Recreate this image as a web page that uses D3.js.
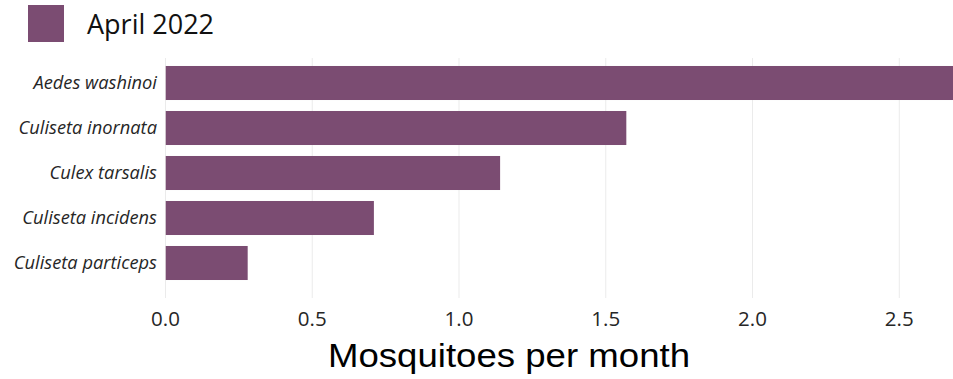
<!DOCTYPE html>
<html>
<head>
<meta charset="utf-8">
<script src="https://cdn.jsdelivr.net/npm/d3@7"></script>
<style>
  html, body { margin: 0; padding: 0; background: #fff; }
  svg { display: block; }
</style>
</head>
<body>
<svg id="chart" width="953" height="379"></svg>
<script>
// Species and their April 2022 catch rate
const species = ["Aedes washinoi", "Culiseta inornata", "Culex tarsalis", "Culiseta incidens", "Culiseta particeps"];
const mosquitoesPerMonth = [2.7, 1.57, 1.14, 0.71, 0.28];
const xTicks = [0, 0.5, 1, 1.5, 2, 2.5];
const seriesName = "April 2022";
const axisTitle = "Mosquitoes per month";

const data = species.map((s, i) => ({ name: s, value: mosquitoesPerMonth[i] }));

const svg = d3.select("#chart");
const W = 953;
const barColor = "#7b4c72";

const x = d3.scaleLinear().domain([0, 2.683]).range([165.5, W]);
const y = d3.scaleBand().domain(species).range([60.5, 285.5]).paddingInner(0.244).paddingOuter(0.122);

// Vertical gridlines
svg.append("g")
  .selectAll("line")
  .data(xTicks)
  .join("line")
  .attr("x1", d => x(d)).attr("x2", d => x(d))
  .attr("y1", 58).attr("y2", 298)
  .attr("stroke", "#ebebeb")
  .attr("stroke-width", 1);

// Bars, clipped at the plot's right edge
svg.append("clipPath").attr("id", "plotClip")
  .append("rect").attr("x", x(0)).attr("y", 0).attr("width", W - x(0)).attr("height", 379);

svg.append("g")
  .attr("clip-path", "url(#plotClip)")
  .selectAll("rect")
  .data(data)
  .join("rect")
  .attr("x", x(0))
  .attr("y", d => y(d.name))
  .attr("width", d => x(d.value) - x(0))
  .attr("height", y.bandwidth())
  .attr("fill", barColor);

// Category labels
svg.append("g")
  .selectAll("text")
  .data(species)
  .join("text")
  .attr("x", 157)
  .attr("y", d => y(d) + y.bandwidth() / 2 + 6)
  .attr("text-anchor", "end")
  .attr("font-family", "Open Sans, sans-serif")
  .attr("font-style", "italic")
  .attr("font-size", 18.3)
  .attr("fill", "#262626")
  .text(d => d);

// X tick labels
svg.append("g")
  .selectAll("text")
  .data(xTicks)
  .join("text")
  .attr("x", d => x(d))
  .attr("y", 326)
  .attr("text-anchor", "middle")
  .attr("font-family", "Open Sans, sans-serif")
  .attr("font-size", 20.5)
  .attr("fill", "#262626")
  .text(d => d3.format(".1f")(d));

// Axis title
svg.append("text")
  .attr("x", 509)
  .attr("y", 367)
  .attr("text-anchor", "middle")
  .attr("font-family", "Liberation Sans, Arial, sans-serif")
  .attr("font-size", 34)
  .attr("textLength", 362)
  .attr("lengthAdjust", "spacingAndGlyphs")
  .attr("fill", "#000")
  .text(axisTitle);

// Legend
const legend = svg.append("g");
legend.append("rect")
  .attr("x", 28).attr("y", 5).attr("width", 36).attr("height", 37)
  .attr("fill", barColor);
legend.append("text")
  .attr("x", 87).attr("y", 34)
  .attr("font-family", "Open Sans, sans-serif")
  .attr("font-size", 27)
  .attr("fill", "#111")
  .text(seriesName);
</script>
</body>
</html>
